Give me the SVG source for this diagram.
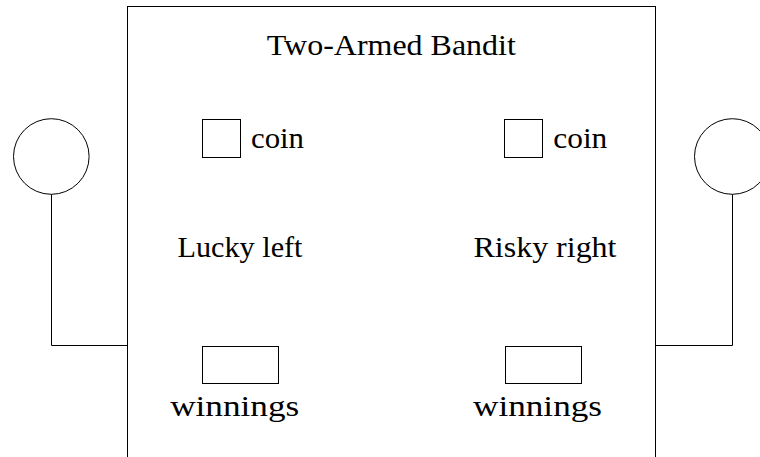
<svg xmlns="http://www.w3.org/2000/svg" width="760" height="457" viewBox="0 0 760 457">
  <style>
    .shape { fill: #fff; stroke: #000; stroke-width: 1; }
    .wire { fill: none; stroke: #000; stroke-width: 1; }
    .lbl { font-family: "Liberation Serif", "DejaVu Serif", serif; font-size: 30px; fill: #000; }
  </style>
  <rect width="760" height="457" fill="#fff"/>
  <g id="machine">
    <rect class="shape" x="127.5" y="6.5" width="528" height="470"/>
    <text class="lbl" x="391.3" y="54.5" text-anchor="middle" textLength="249" lengthAdjust="spacingAndGlyphs">Two-Armed Bandit</text>
  </g>
  <g id="connectors">
    <polyline class="wire" points="51.5,194.3 51.5,345.5 127.5,345.5"/>
    <polyline class="wire" points="732.5,194.3 732.5,345.5 655.5,345.5"/>
  </g>
  <g id="left-handle">
    <circle class="shape" cx="51.3" cy="156.5" r="37.8"/>
  </g>
  <g id="right-handle">
    <circle class="shape" cx="732.3" cy="156.5" r="37.8"/>
  </g>
  <g id="left-coin">
    <rect class="shape" x="202.5" y="119.5" width="38" height="38"/>
    <text class="lbl" x="251" y="148" textLength="53" lengthAdjust="spacingAndGlyphs">coin</text>
  </g>
  <g id="right-coin">
    <rect class="shape" x="504.5" y="119.5" width="38" height="38"/>
    <text class="lbl" x="553.3" y="148" textLength="54" lengthAdjust="spacingAndGlyphs">coin</text>
  </g>
  <g id="lucky-left">
    <text class="lbl" x="240" y="257" text-anchor="middle" textLength="125" lengthAdjust="spacingAndGlyphs">Lucky left</text>
  </g>
  <g id="risky-right">
    <text class="lbl" x="545" y="257" text-anchor="middle" textLength="143" lengthAdjust="spacingAndGlyphs">Risky right</text>
  </g>
  <g id="left-winnings">
    <rect class="shape" x="202.5" y="346.5" width="76" height="37"/>
    <text class="lbl" x="234.7" y="416" text-anchor="middle" textLength="129" lengthAdjust="spacingAndGlyphs">winnings</text>
  </g>
  <g id="right-winnings">
    <rect class="shape" x="505.5" y="346.5" width="76" height="37"/>
    <text class="lbl" x="537.5" y="416" text-anchor="middle" textLength="129" lengthAdjust="spacingAndGlyphs">winnings</text>
  </g>
</svg>
